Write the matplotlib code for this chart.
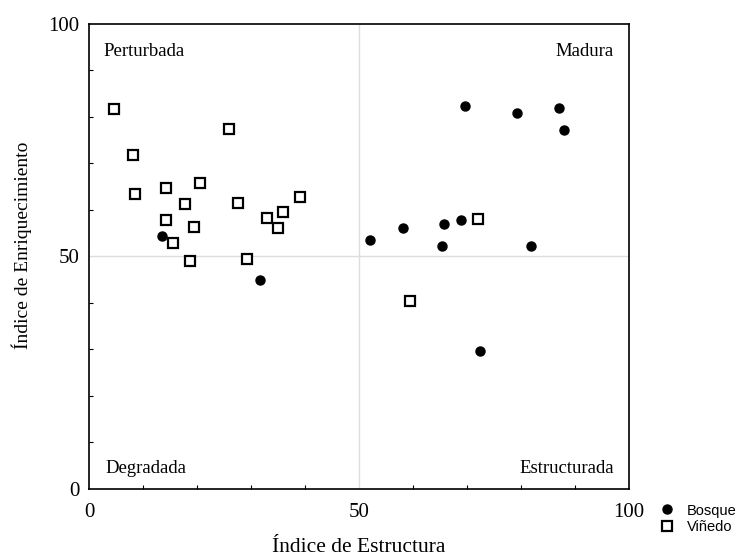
import matplotlib
matplotlib.use('Agg')
import matplotlib.pyplot as plt
from matplotlib.ticker import MultipleLocator

# Bosque (filled circles)
bosque_x = [13.5, 31.7, 69.6, 79.3, 87.0, 87.9, 52.0, 58.2, 65.8, 68.8, 65.3, 81.9, 72.4]
bosque_y = [54.3, 44.9, 82.3, 80.9, 82.0, 77.1, 53.6, 56.1, 56.9, 57.8, 52.3, 52.3, 29.7]

# Viñedo (open squares)
vinedo_x = [4.7, 26.0, 8.2, 8.5, 14.3, 20.6, 17.8, 27.6, 39.1, 14.3, 19.5, 32.9, 36.0,
            35.0, 15.6, 18.7, 29.3, 72.1, 59.4]
vinedo_y = [81.7, 77.5, 71.8, 63.5, 64.7, 65.9, 61.3, 61.6, 62.9, 57.9, 56.4, 58.3, 59.5,
            56.1, 52.8, 49.1, 49.4, 58.0, 40.4]

quadrants = ['Perturbada', 'Madura', 'Degradada', 'Estructurada']

serif = 'Liberation Serif'

fig = plt.figure(figsize=(7.55, 5.58), dpi=100)
ax = fig.add_axes([0.1179, 0.1237, 0.7152, 0.8333])

ax.axvline(50, color='#dddddd', lw=1, zorder=0)
ax.axhline(50, color='#dddddd', lw=1, zorder=0)

ax.plot(bosque_x, bosque_y, 'o', color='black', markersize=6.5, label='Bosque', zorder=3)
ax.plot(vinedo_x, vinedo_y, 's', markerfacecolor='white', markeredgecolor='black',
        markersize=7.5, markeredgewidth=1.6, label='Viñedo', zorder=3)

ax.set_xlim(0, 100)
ax.set_ylim(0, 100)
ax.xaxis.set_major_locator(MultipleLocator(50))
ax.yaxis.set_major_locator(MultipleLocator(50))
ax.xaxis.set_minor_locator(MultipleLocator(10))
ax.yaxis.set_minor_locator(MultipleLocator(10))
ax.tick_params(which='major', length=0, labelsize=15)
ax.tick_params(axis='x', which='major', pad=10)
ax.tick_params(axis='y', which='major', pad=7)
ax.tick_params(which='minor', direction='in', length=3, width=0.8)
for lab in ax.get_xticklabels() + ax.get_yticklabels():
    lab.set_fontfamily(serif)
for s in ax.spines.values():
    s.set_linewidth(1.2)

ax.set_xlabel('Índice de Estructura', fontfamily=serif, fontsize=15.5)
ax.set_ylabel('Índice de Enriquecimiento', fontfamily=serif, fontsize=14)
ax.xaxis.set_label_coords(0.5, -0.105)
ax.yaxis.set_label_coords(-0.106, 0.525)

qfont = dict(fontfamily=serif, fontsize=13.5)
ax.text(0.026, 0.94, quadrants[0], transform=ax.transAxes, ha='left', va='center', **qfont)
ax.text(0.972, 0.94, quadrants[1], transform=ax.transAxes, ha='right', va='center', **qfont)
ax.text(0.03, 0.043, quadrants[2], transform=ax.transAxes, ha='left', va='center', **qfont)
ax.text(0.972, 0.043, quadrants[3], transform=ax.transAxes, ha='right', va='center', **qfont)

fig.legend(loc='upper left', bbox_to_anchor=(0.866, 0.108), frameon=False,
           prop={'family': 'Liberation Sans', 'size': 10.5}, handletextpad=0.85,
           labelspacing=0.2, handlelength=1.0, borderaxespad=0)

fig.savefig('out.png', dpi=100)
